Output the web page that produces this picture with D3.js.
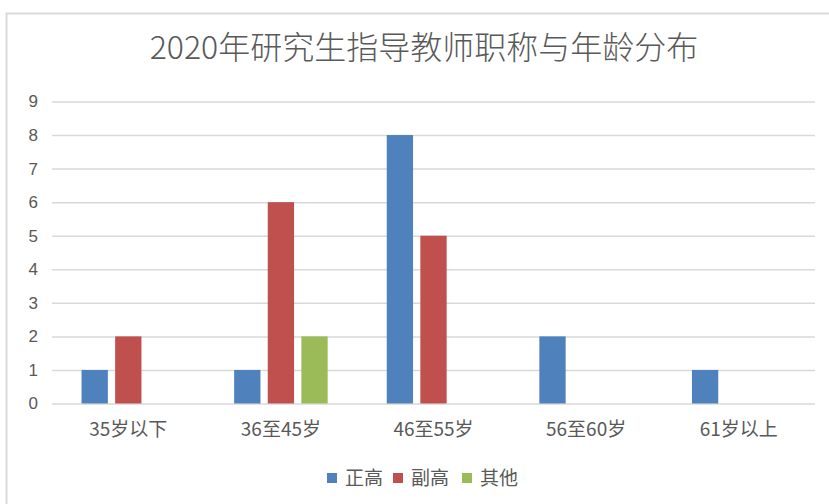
<!DOCTYPE html>
<html><head><meta charset="utf-8">
<script src="https://cdn.jsdelivr.net/npm/d3@7"></script>
<style>
body{margin:0;background:#fff;}
svg text{font-family:"Noto Sans CJK SC","Noto Sans",sans-serif;}
</style></head>
<body><svg id="c" width="829" height="504"></svg>
<script>
const title = "2020年研究生指导教师职称与年龄分布";
const categories = ["35岁以下","36至45岁","46至55岁","56至60岁","61岁以上"];
const seriesNames = ["正高","副高","其他"];
const seriesColors = ["#4F81BD","#C0504D","#9BBB59"];
const zhenggao = [1,1,8,2,1];
const fugao = [2,6,5,0,0];
const qita = [0,2,0,0,0];
const yTicks = [0,1,2,3,4,5,6,7,8,9];
const seriesValues = [zhenggao, fugao, qita];

const svg = d3.select("#c");
svg.append("rect").attr("x",0).attr("y",0).attr("width",829).attr("height",504).attr("fill","#fff");
// chart border
svg.append("path").attr("d","M6.5,504 V13.5 H829").attr("fill","none").attr("stroke","#D9D9D9").attr("stroke-width",2);

svg.append("text").attr("x",424).attr("y",59).attr("text-anchor","middle")
  .attr("font-size",32).attr("font-weight",300).attr("fill","#595959").text(title);

const x0 = d3.scaleBand().domain(categories).range([52,815]).paddingInner(0).paddingOuter(0);
const groupW = 100.8;
const x1 = d3.scaleBand().domain(seriesNames).range([0,groupW]).paddingInner(0.217).paddingOuter(0.1085);
const y = d3.scaleLinear().domain([0,9]).range([403.5,101.5]);

// grid
const grid = svg.append("g").attr("transform","translate(52,0)")
  .call(d3.axisLeft(y).tickValues(yTicks).tickSize(-763).tickFormat(""));
grid.select(".domain").remove();
grid.selectAll("line").attr("stroke","#D9D9D9").attr("stroke-width",1.5);

// y labels
const ya = svg.append("g").attr("transform","translate(38,0)")
  .call(d3.axisLeft(y).tickValues(yTicks).tickSize(0).tickPadding(0).tickFormat(d3.format("d")));
ya.select(".domain").remove();
ya.selectAll("text").attr("font-size",17).attr("fill","#595959").style("font-family","'Liberation Sans',sans-serif");

// bars
const data = [];
categories.forEach((c,i)=>seriesNames.forEach((s,j)=>data.push({c,s,j,v:seriesValues[j][i]})));
svg.append("g").selectAll("rect").data(data.filter(d=>d.v>0)).join("rect")
  .attr("x",d=>x0(d.c)+(x0.bandwidth()-groupW)/2+x1(d.s))
  .attr("width",x1.bandwidth())
  .attr("y",d=>y(d.v))
  .attr("height",d=>y(0)-y(d.v))
  .attr("fill",d=>seriesColors[d.j]);

// x labels
const xa = svg.append("g").attr("transform","translate(0,"+y(0)+")")
  .call(d3.axisBottom(x0).tickSize(0).tickPadding(19));
xa.select(".domain").remove();
xa.selectAll("text").attr("font-size",19).attr("fill","#595959");

// legend
const legX = [327,393,462];
const lg = svg.append("g");
seriesNames.forEach((s,j)=>{
  lg.append("rect").attr("x",legX[j]).attr("y",473).attr("width",10).attr("height",10).attr("fill",seriesColors[j]);
  lg.append("text").attr("x",legX[j]+18).attr("y",485).attr("font-size",19).attr("fill","#595959").text(s);
});
</script></body></html>
